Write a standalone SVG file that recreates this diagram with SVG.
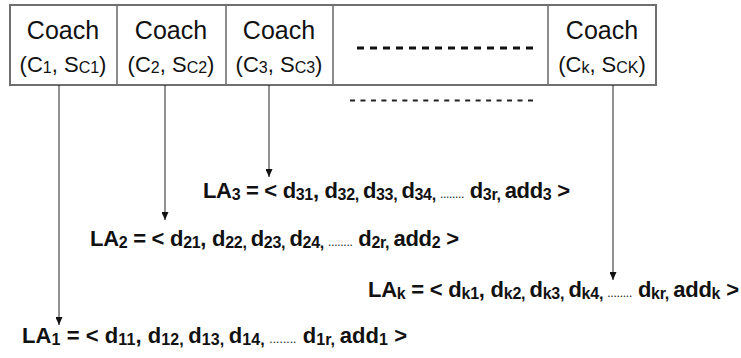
<svg xmlns="http://www.w3.org/2000/svg" width="741" height="358" viewBox="0 0 741 358">
  <style>
    .cell { fill: #ffffff; stroke: none; }
    .frame { fill: none; stroke: #6f6f6f; stroke-width: 2; }
    .divider { stroke: #1a1a1a; stroke-width: 1; }
    .coach { font-family: "Liberation Sans", Arial, sans-serif; font-size: 25px; fill: #111; text-anchor: middle; }
    .id { font-family: "Liberation Sans", Arial, sans-serif; font-size: 22px; fill: #111; text-anchor: middle; }
    .id .s { font-size: 16px; }
    .la { font-family: "Liberation Sans", Arial, sans-serif; font-size: 22px; font-weight: bold; fill: #111; }
    .la .s { font-size: 16px; }
    .la .dots { font-size: 12px; font-weight: normal; }
    .conn { stroke: #222; stroke-width: 1; fill: none; marker-end: url(#arrow); }
  </style>
  <defs>
    <!-- filled head, tip at the end of the line -->
    <marker id="arrow" viewBox="0 0 8 7" refX="8" refY="3.5" markerWidth="8" markerHeight="7" markerUnits="userSpaceOnUse" orient="auto">
      <path d="M0,0 L8,3.5 L0,7 Z" fill="#111"/>
    </marker>
  </defs>

  <!-- coach row -->
  <g id="coach-row">
    <rect class="cell" x="10" y="5" width="646" height="80"/>
    <line class="divider" x1="117" y1="5" x2="117" y2="85"/>
    <line class="divider" x1="226" y1="5" x2="226" y2="85"/>
    <line class="divider" x1="333" y1="5" x2="333" y2="85"/>
    <line class="divider" x1="548" y1="5" x2="548" y2="85"/>
    <rect class="frame" x="10" y="5" width="646" height="80"/>
  </g>

  <g id="coach1">
    <text class="coach" x="63" y="39">Coach</text>
    <text class="id" x="63" y="72">(C<tspan class="s" dy="1">1</tspan><tspan dy="-1">, S</tspan><tspan class="s" dy="1">C1</tspan><tspan dy="-1">)</tspan></text>
  </g>
  <g id="coach2">
    <text class="coach" x="171" y="39">Coach</text>
    <text class="id" x="171" y="72">(C<tspan class="s" dy="1">2</tspan><tspan dy="-1">, S</tspan><tspan class="s" dy="1">C2</tspan><tspan dy="-1">)</tspan></text>
  </g>
  <g id="coach3">
    <text class="coach" x="279" y="39">Coach</text>
    <text class="id" x="279" y="72">(C<tspan class="s" dy="1">3</tspan><tspan dy="-1">, S</tspan><tspan class="s" dy="1">C3</tspan><tspan dy="-1">)</tspan></text>
  </g>
  <g id="coach-more">
    <line x1="357" y1="48" x2="533" y2="48" stroke="#111" stroke-width="3" stroke-dasharray="7 6"/>
  </g>
  <g id="coachk">
    <text class="coach" x="602" y="39">Coach</text>
    <text class="id" x="602" y="72">(C<tspan class="s" dy="1">k</tspan><tspan dy="-1">, S</tspan><tspan class="s" dy="1">CK</tspan><tspan dy="-1">)</tspan></text>
  </g>

  <g id="more-lists">
    <line x1="350" y1="100.5" x2="533" y2="100.5" stroke="#222" stroke-width="2" stroke-dasharray="5 5.47"/>
  </g>

  <!-- connectors -->
  <g id="connectors">
    <line class="conn" x1="59" y1="85" x2="59" y2="325"/>
    <line class="conn" x1="165" y1="85" x2="165" y2="220"/>
    <line class="conn" x1="269" y1="85" x2="269" y2="177"/>
    <line class="conn" x1="613" y1="85" x2="613" y2="280"/>
  </g>

  <!-- location arrays -->
  <g id="la3">
    <text class="la" x="203" y="198" textLength="367" lengthAdjust="spacing">LA<tspan class="s" dy="2">3</tspan><tspan dy="-2"> = &lt; d</tspan><tspan class="s" dy="2">31</tspan><tspan dy="-2">, d</tspan><tspan class="s" dy="2">32, </tspan><tspan dy="-2">d</tspan><tspan class="s" dy="2">33, </tspan><tspan dy="-2">d</tspan><tspan class="s" dy="2">34, </tspan><tspan class="dots" dy="-2">........</tspan><tspan> d</tspan><tspan class="s" dy="2">3r, </tspan><tspan dy="-2">add</tspan><tspan class="s" dy="2">3</tspan><tspan dy="-2"> &gt;</tspan></text>
  </g>
  <g id="la2">
    <text class="la" x="90" y="246" textLength="369" lengthAdjust="spacing">LA<tspan class="s" dy="2">2</tspan><tspan dy="-2"> = &lt; d</tspan><tspan class="s" dy="2">21</tspan><tspan dy="-2">, d</tspan><tspan class="s" dy="2">22, </tspan><tspan dy="-2">d</tspan><tspan class="s" dy="2">23, </tspan><tspan dy="-2">d</tspan><tspan class="s" dy="2">24, </tspan><tspan class="dots" dy="-2">........</tspan><tspan> d</tspan><tspan class="s" dy="2">2r, </tspan><tspan dy="-2">add</tspan><tspan class="s" dy="2">2</tspan><tspan dy="-2"> &gt;</tspan></text>
  </g>
  <g id="lak">
    <text class="la" x="368" y="297" textLength="371" lengthAdjust="spacing">LA<tspan class="s" dy="2">k</tspan><tspan dy="-2"> = &lt; d</tspan><tspan class="s" dy="2">k1</tspan><tspan dy="-2">, d</tspan><tspan class="s" dy="2">k2, </tspan><tspan dy="-2">d</tspan><tspan class="s" dy="2">k3, </tspan><tspan dy="-2">d</tspan><tspan class="s" dy="2">k4, </tspan><tspan class="dots" dy="-2">........</tspan><tspan> d</tspan><tspan class="s" dy="2">kr, </tspan><tspan dy="-2">add</tspan><tspan class="s" dy="2">k</tspan><tspan dy="-2"> &gt;</tspan></text>
  </g>
  <g id="la1">
    <text class="la" x="22" y="343" textLength="385" lengthAdjust="spacing">LA<tspan class="s" dy="2">1</tspan><tspan dy="-2"> = &lt; d</tspan><tspan class="s" dy="2">11</tspan><tspan dy="-2">, d</tspan><tspan class="s" dy="2">12, </tspan><tspan dy="-2">d</tspan><tspan class="s" dy="2">13, </tspan><tspan dy="-2">d</tspan><tspan class="s" dy="2">14, </tspan><tspan class="dots" dy="-2">........</tspan><tspan> d</tspan><tspan class="s" dy="2">1r, </tspan><tspan dy="-2">add</tspan><tspan class="s" dy="2">1</tspan><tspan dy="-2"> &gt;</tspan></text>
  </g>
</svg>
